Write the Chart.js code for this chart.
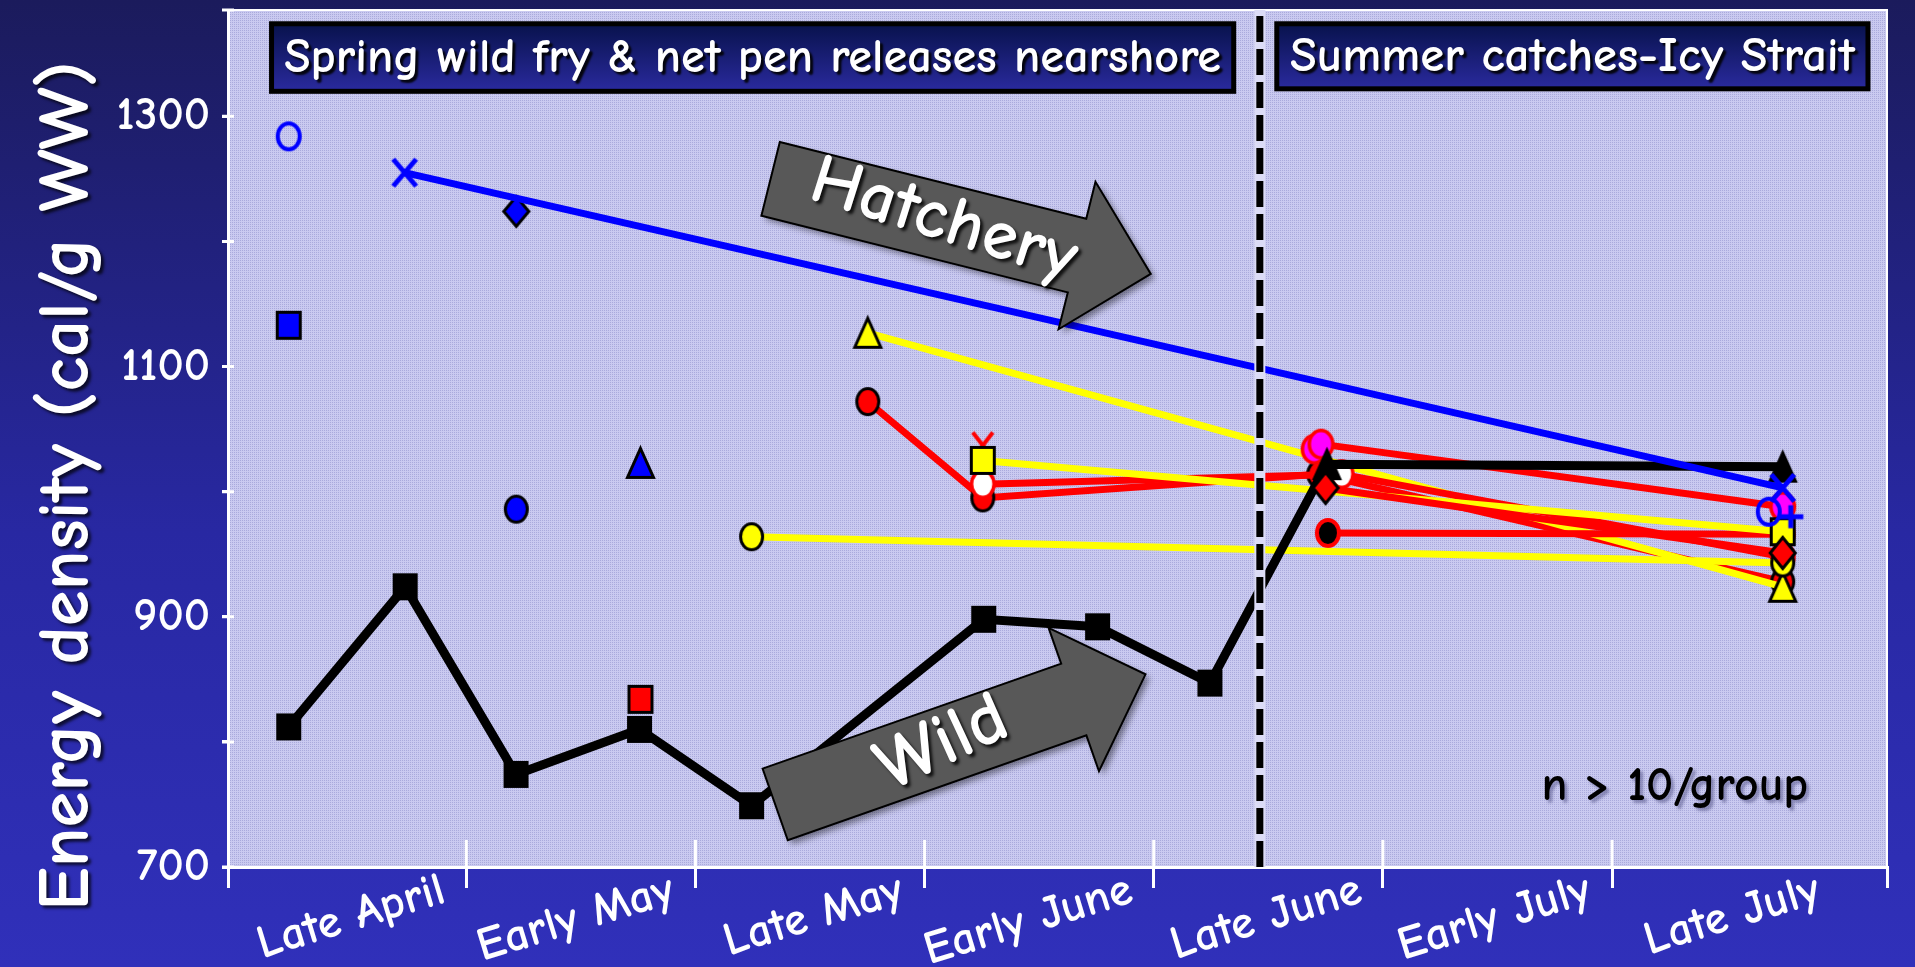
<!DOCTYPE html>
<html>
<head>
<meta charset="utf-8">
<script src="https://cdn.jsdelivr.net/npm/chart.js@4.4.1/dist/chart.umd.min.js"></script>
<style>
  html, body { margin: 0; padding: 0; }
  body {
    width: 1915px;
    height: 967px;
    overflow: hidden;
    background: linear-gradient(to bottom, #1b1b5c 0%, #2828a2 55%, #3030ba 100%);
  }
</style>
</head>
<body>
<canvas id="energyChart" width="1915" height="967"></canvas>
<script>
const FONT = '"Comic Sans MS", "Comic Neue", "Noto Sans", sans-serif';

// x is measured in half-month periods: 0 = start of "Late April"
const periodLabels = ['Late April', 'Early May', 'Late May', 'Early June', 'Late June', 'Early July', 'Late July'];
const yTickValues = [700, 800, 900, 1000, 1100, 1200, 1300, 1385];
const yLabelValues = [700, 900, 1100, 1300];

// Wild fish (black line)
const wildX = [0.225, 0.733, 1.217, 1.756, 2.245, 3.258, 3.755, 4.245, 4.756, 6.745];
const wildY = [812, 924, 774, 810, 749, 898, 892, 847, 1022, 1020];

// Hatchery groups followed into summer
const blueXX = [0.731, 6.745];
const blueXY = [1255, 1003];
const yelTriX = [2.752, 6.745];
const yelTriY = [1127, 924];
const yelCircX = [2.245, 6.745];
const yelCircY = [964, 943];
const yelSqX = [3.254, 6.745];
const yelSqY = [1025, 968];
const redCircX = [2.752, 3.254, 4.72, 6.745];
const redCircY = [1072, 995, 1014, 928];
const whiteCircX = [3.254, 4.82, 6.745];
const whiteCircY = [1006, 1014, 948];
const redDiaX = [4.75, 6.745];
const redDiaY = [1003, 951];
const redBlkX = [4.76, 6.745];
const redBlkY = [967, 966];
const magX = [4.73, 6.745];
const magY = [1038, 988];
const mag2X = [4.70];
const mag2Y = [1034];

// Single-sample hatchery groups
const blueOpenX = [0.225, 6.684];
const blueOpenY = [1284, 984];
const bluePlusX = [6.78];
const bluePlusY = [980];
const blueSqX = [0.225];
const blueSqY = [1133];
const blueDiaX = [1.218];
const blueDiaY = [1224];
const blueCircX = [1.218];
const blueCircY = [986];
const blueTriX = [1.76];
const blueTriY = [1023];
const redSqX = [1.76];
const redSqY = [834];
const redXX = [3.254];
const redXY = [1037];

// Spring / summer divider
const dividerX = [4.463, 4.463];
const dividerY = [700, 1385];

const X_MIN = -0.04;
const X_MAX = 7.2;

const BLUE = '#0000ff';
const RED = '#ff0000';
const YELLOW = '#ffff00';
const MAGENTA = '#ff00ff';

function pts(xs, ys) {
    return xs.map((x, i) => ({ x: x, y: ys[i] }));
}

// markers are slightly taller than wide, as in the original slide
function makeMarker(shape, w, h, fill, stroke, lw) {
    const pad = Math.ceil(lw * 2) + 1;
    const c = document.createElement('canvas');
    c.width = w + 2 * pad;
    c.height = h + 2 * pad;
    const g = c.getContext('2d');
    const cx = c.width / 2, cy = c.height / 2;
    const rx = w / 2 - lw / 2, ry = h / 2 - lw / 2;
    g.beginPath();
    switch (shape) {
        case 'ellipse':
            g.ellipse(cx, cy, rx, ry, 0, 0, 2 * Math.PI);
            break;
        case 'rect':
            g.rect(cx - rx, cy - ry, 2 * rx, 2 * ry);
            break;
        case 'diamond':
            g.moveTo(cx, cy - ry);
            g.lineTo(cx + rx, cy);
            g.lineTo(cx, cy + ry);
            g.lineTo(cx - rx, cy);
            g.closePath();
            break;
        case 'triangle':
            g.moveTo(cx, cy - ry);
            g.lineTo(cx + rx, cy + ry);
            g.lineTo(cx - rx, cy + ry);
            g.closePath();
            break;
        case 'x':
            g.moveTo(cx - rx, cy - ry);
            g.lineTo(cx + rx, cy + ry);
            g.moveTo(cx + rx, cy - ry);
            g.lineTo(cx - rx, cy + ry);
            break;
        case 'plus':
            g.moveTo(cx - rx, cy);
            g.lineTo(cx + rx, cy);
            g.moveTo(cx, cy - ry);
            g.lineTo(cx, cy + ry);
            break;
    }
    if (fill) {
        g.fillStyle = fill;
        g.fill();
    }
    if (stroke) {
        g.strokeStyle = stroke;
        g.lineWidth = lw;
        g.stroke();
    }
    return c;
}

const mk = {
    wildSquare: makeMarker('rect', 25, 27, '#000', null, 0),
    wildTriangle: makeMarker('triangle', 29, 32, '#000', '#000', 2),
    blueX: makeMarker('x', 28, 32, null, BLUE, 5),
    bluePlus: makeMarker('plus', 30, 28, null, BLUE, 5),
    blueOpen: makeMarker('ellipse', 26, 30, null, BLUE, 4),
    redDiamond: makeMarker('diamond', 28, 34, RED, '#000', 3),
    yellowSquare: makeMarker('rect', 26, 29, YELLOW, '#000', 3),
    redX: makeMarker('x', 24, 30, null, RED, 4),
    yellowCircle: makeMarker('ellipse', 25, 29, YELLOW, '#000', 3),
    magenta: makeMarker('ellipse', 27, 31, MAGENTA, RED, 3.5),
    white: makeMarker('ellipse', 26, 30, '#fff', RED, 3.5),
    redBlack: makeMarker('ellipse', 26, 30, '#000', RED, 4),
    yellowTriangle: makeMarker('triangle', 29, 32, YELLOW, '#000', 3),
    redCircle: makeMarker('ellipse', 25, 29, RED, '#000', 3),
    blueSquare: makeMarker('rect', 26, 29, BLUE, '#000', 3),
    blueDiamond: makeMarker('diamond', 28, 33, BLUE, '#000', 3),
    blueCircle: makeMarker('ellipse', 25, 29, BLUE, '#000', 3),
    blueTriangle: makeMarker('triangle', 29, 32, BLUE, '#000', 3),
    redSquare: makeMarker('rect', 26, 29, RED, '#000', 3)
};

function marker(label, xs, ys, style) {
    return { label: label, data: pts(xs, ys), showLine: false, pointStyle: style, pointRadius: 12 };
}

function series(label, xs, ys, style, lineColor, width) {
    return {
        label: label,
        data: pts(xs, ys),
        showLine: true,
        borderColor: lineColor,
        borderWidth: width || 7,
        pointStyle: style,
        pointRadius: 12
    };
}

// first dataset is drawn on top
const datasets = [
    { label: 'divider', data: pts(dividerX, dividerY), showLine: true, borderColor: '#000', borderWidth: 7, borderDash: [26, 7], pointRadius: 0 },
    { label: 'divider halo', data: pts(dividerX, dividerY), showLine: true, borderColor: '#dcdcf6', borderWidth: 11, pointRadius: 0 },
    marker('blue plus', bluePlusX, bluePlusY, mk.bluePlus),
    marker('blue open circle', blueOpenX, blueOpenY, mk.blueOpen),
    series('blue X', blueXX, blueXY, mk.blueX, BLUE),
    series('red diamond', redDiaX, redDiaY, mk.redDiamond, RED),
    series('wild', wildX, wildY, ctx => (ctx.dataIndex < 8 ? mk.wildSquare : mk.wildTriangle), '#000', 9),
    series('yellow square', yelSqX, yelSqY, mk.yellowSquare, YELLOW),
    marker('red X', redXX, redXY, mk.redX),
    series('yellow circle', yelCircX, yelCircY, mk.yellowCircle, YELLOW),
    series('magenta circle', magX, magY, mk.magenta, RED),
    marker('magenta circle 2', mag2X, mag2Y, mk.magenta),
    series('white circle', whiteCircX, whiteCircY, mk.white, RED),
    series('red black circle', redBlkX, redBlkY, mk.redBlack, RED),
    series('yellow triangle', yelTriX, yelTriY, mk.yellowTriangle, YELLOW),
    series('red circle', redCircX, redCircY, mk.redCircle, RED),
    marker('blue square', blueSqX, blueSqY, mk.blueSquare),
    marker('blue diamond', blueDiaX, blueDiaY, mk.blueDiamond),
    marker('blue circle', blueCircX, blueCircY, mk.blueCircle),
    marker('blue triangle', blueTriX, blueTriY, mk.blueTriangle),
    marker('red square', redSqX, redSqY, mk.redSquare)
];

// dotted lavender fill of the plot area
const plotPattern = (() => {
    const c = document.createElement('canvas');
    c.width = 2;
    c.height = 2;
    const g = c.getContext('2d');
    g.fillStyle = '#cacaf0';
    g.fillRect(0, 0, 2, 2);
    g.fillStyle = '#aaaadc';
    g.fillRect(0, 0, 1, 1);
    return c;
})();

const plotBackground = {
    id: 'plotBackground',
    beforeDraw(chart) {
        const { ctx, chartArea: a } = chart;
        ctx.save();
        ctx.fillStyle = ctx.createPattern(plotPattern, 'repeat');
        ctx.fillRect(a.left, a.top, a.width, a.height);
        ctx.strokeStyle = '#fff';
        ctx.lineWidth = 2;
        ctx.beginPath();
        ctx.moveTo(a.left, a.top);
        ctx.lineTo(a.right, a.top);
        ctx.lineTo(a.right, a.bottom);
        ctx.stroke();
        ctx.restore();
    }
};

// tick marks that also reach into the plot area
const crossTicks = {
    id: 'crossTicks',
    beforeDatasetsDraw(chart) {
        const { ctx, chartArea: a, scales } = chart;
        ctx.save();
        ctx.strokeStyle = '#fff';
        ctx.lineWidth = 3;
        ctx.beginPath();
        for (let k = 1; k <= 6; k++) {
            const px = scales.x.getPixelForValue(k);
            ctx.moveTo(px, a.bottom);
            ctx.lineTo(px, a.bottom - 27);
        }
        yTickValues.forEach(v => {
            const py = scales.y.getPixelForValue(v);
            ctx.moveTo(a.left - 6, py);
            ctx.lineTo(a.left + 6, py);
        });
        ctx.stroke();
        ctx.restore();
    }
};

function fitFont(ctx, text, weight, size, targetWidth) {
    ctx.font = weight + ' ' + size + 'px ' + FONT;
    const w = ctx.measureText(text).width;
    const s = size * targetWidth / w;
    return weight + ' ' + s.toFixed(1) + 'px ' + FONT;
}

function shadow(ctx, color, off, blur) {
    ctx.shadowColor = color;
    ctx.shadowOffsetX = off;
    ctx.shadowOffsetY = off;
    ctx.shadowBlur = blur;
}

function drawArrow(ctx, x0, y0, x1, y1, label, size, textTilt) {
    const ang = Math.atan2(y1 - y0, x1 - x0);
    const len = Math.hypot(x1 - x0, y1 - y0);
    const body = 38, head = 76, headLen = 76;
    ctx.save();
    ctx.translate(x0, y0);
    ctx.rotate(ang);
    ctx.beginPath();
    ctx.moveTo(0, -body);
    ctx.lineTo(len - headLen, -body);
    ctx.lineTo(len - headLen, -head);
    ctx.lineTo(len, 0);
    ctx.lineTo(len - headLen, head);
    ctx.lineTo(len - headLen, body);
    ctx.lineTo(0, body);
    ctx.closePath();
    shadow(ctx, 'rgba(0,0,0,0.45)', 4, 6);
    ctx.fillStyle = '#585858';
    ctx.fill();
    shadow(ctx, 'rgba(0,0,0,0)', 0, 0);
    ctx.strokeStyle = '#000';
    ctx.lineWidth = 2;
    ctx.stroke();
    ctx.translate(178, -2);
    ctx.rotate(textTilt);
    ctx.font = 'bold ' + size + 'px ' + FONT;
    ctx.textAlign = 'center';
    ctx.textBaseline = 'middle';
    shadow(ctx, 'rgba(0,0,0,0.8)', 3, 3);
    ctx.fillStyle = '#fff';
    ctx.fillText(label, 0, 0);
    ctx.restore();
}

function drawTitleBox(chart, u0, u1, vTop, vBottom, text) {
    const { ctx, scales } = chart;
    const l = scales.x.getPixelForValue(u0);
    const r = scales.x.getPixelForValue(u1);
    const t = scales.y.getPixelForValue(vTop);
    const b = scales.y.getPixelForValue(vBottom);
    ctx.save();
    const grad = ctx.createLinearGradient(0, t, 0, b);
    grad.addColorStop(0, '#08124c');
    grad.addColorStop(1, '#2a2a9e');
    ctx.fillStyle = grad;
    ctx.fillRect(l, t, r - l, b - t);
    ctx.strokeStyle = '#000';
    ctx.lineWidth = 5;
    ctx.strokeRect(l, t, r - l, b - t);
    ctx.font = fitFont(ctx, text, 'bold', 36, r - l - 26);
    ctx.textAlign = 'center';
    ctx.textBaseline = 'middle';
    shadow(ctx, 'rgba(0,0,0,0.9)', 3, 2);
    ctx.fillStyle = '#fff';
    ctx.fillText(text, (l + r) / 2, (t + b) / 2 + 1);
    ctx.restore();
}

const annotations = {
    id: 'annotations',
    afterDatasetsDraw(chart) {
        const { ctx, scales } = chart;
        const px = u => scales.x.getPixelForValue(u);
        const py = v => scales.y.getPixelForValue(v);

        drawArrow(ctx, px(2.328), py(1250), px(3.987), py(1174), 'Hatchery', 71, 0.06);
        drawArrow(ctx, px(2.348), py(750), px(3.964), py(854), 'Wild', 74, -0.1);

        drawTitleBox(chart, 0.150, 4.349, 1374, 1320, 'Spring wild fry & net pen releases nearshore');
        drawTitleBox(chart, 4.537, 7.117, 1374, 1322, 'Summer catches-Icy Strait');

        ctx.save();
        ctx.font = fitFont(ctx, 'n > 10/group', 'bold', 40, 267);
        ctx.textAlign = 'center';
        ctx.textBaseline = 'middle';
        shadow(ctx, 'rgba(90,90,140,0.6)', 3, 3);
        ctx.fillStyle = '#000';
        ctx.fillText('n > 10/group', px(6.274), py(764));
        ctx.restore();

        // y axis title
        ctx.save();
        ctx.translate(67, 486);
        ctx.rotate(-Math.PI / 2);
        ctx.font = fitFont(ctx, 'Energy density (cal/g WW)', 'bold', 60, 850);
        ctx.textAlign = 'center';
        ctx.textBaseline = 'middle';
        shadow(ctx, 'rgba(0,0,0,0.7)', 3, 3);
        ctx.fillStyle = '#fff';
        ctx.fillText('Energy density (cal/g WW)', 0, 0);
        ctx.restore();
    }
};

new Chart(document.getElementById('energyChart'), {
    type: 'scatter',
    data: { datasets: datasets },
    options: {
        responsive: false,
        animation: false,
        events: [],
        layout: {
            autoPadding: false,
            padding: { top: 10, right: 28, left: 0, bottom: 0 }
        },
        plugins: {
            legend: { display: false },
            tooltip: { enabled: false }
        },
        scales: {
            x: {
                type: 'linear',
                position: 'bottom',
                weight: 0,
                min: X_MIN,
                max: X_MAX,
                border: { color: '#fff', width: 3 },
                grid: { drawOnChartArea: false, color: '#fff', lineWidth: 3, tickLength: 21 },
                ticks: { display: false },
                afterBuildTicks: axis => {
                    axis.ticks = [X_MIN, 1, 2, 3, 4, 5, 6, X_MAX].map(v => ({ value: v }));
                },
                afterFit: axis => { axis.height = 0; }
            },
            xLabels: {
                type: 'linear',
                position: 'bottom',
                weight: 1,
                min: X_MIN,
                max: X_MAX,
                border: { display: false },
                grid: { display: false, drawTicks: false },
                ticks: {
                    autoSkip: false,
                    minRotation: 17,
                    maxRotation: 17,
                    color: '#fff',
                    font: { family: FONT, size: 47, weight: 'bold' },
                    padding: -5,
                    labelOffset: 92,
                    callback: (v, i) => periodLabels[i]
                },
                afterBuildTicks: axis => {
                    axis.ticks = periodLabels.map((_, i) => ({ value: i + 0.5 }));
                },
                afterFit: axis => {
                    axis.height = 100;
                    axis.paddingLeft = 0;
                    axis.paddingRight = 0;
                }
            },
            y: {
                type: 'linear',
                min: 700,
                max: 1385,
                border: { color: '#fff', width: 3 },
                grid: { drawOnChartArea: false, color: '#fff', lineWidth: 3, tickLength: 6 },
                ticks: {
                    color: '#fff',
                    font: { family: FONT, size: 46, weight: 'bold' },
                    padding: 12,
                    // unlabeled top tick returns null so it adds no top padding
                    callback: v => (v === 1385 ? null : (yLabelValues.includes(v) ? v : ''))
                },
                afterBuildTicks: axis => {
                    axis.ticks = yTickValues.map(v => ({ value: v }));
                },
                afterFit: axis => {
                    axis.width = 228;
                    axis.paddingTop = 0;
                    axis.paddingBottom = 0;
                }
            }
        }
    },
    plugins: [plotBackground, crossTicks, annotations]
});
</script>
</body>
</html>
